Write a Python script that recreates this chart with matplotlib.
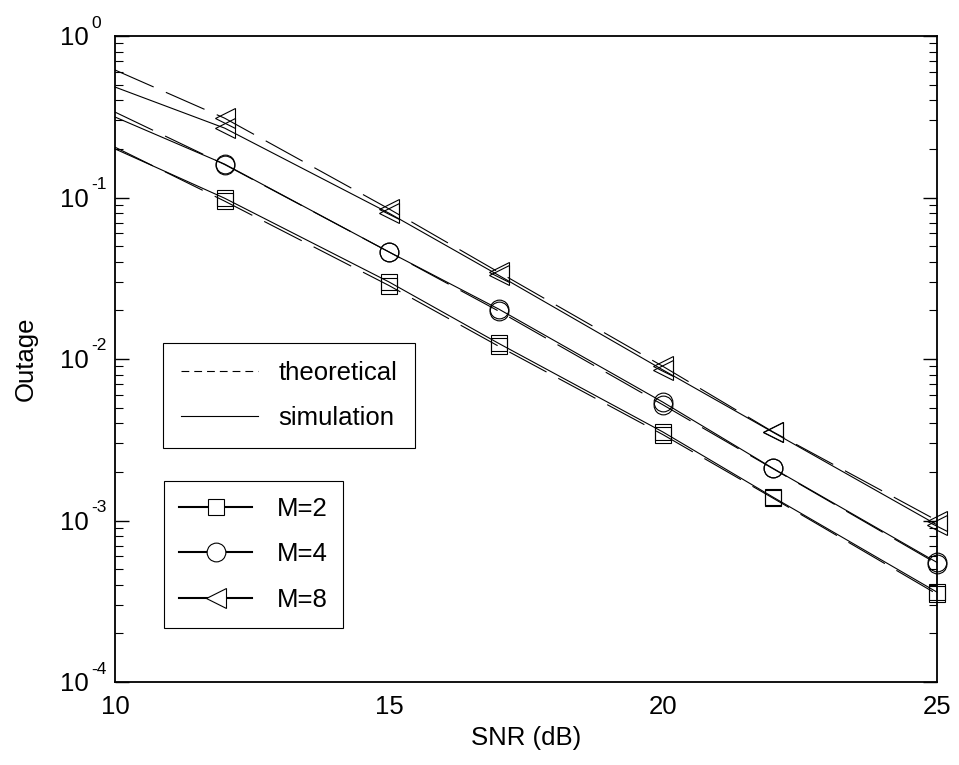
import matplotlib
matplotlib.use("Agg")
import matplotlib.pyplot as plt
from matplotlib.lines import Line2D
from matplotlib.ticker import FixedLocator, LogLocator, NullFormatter
from matplotlib.transforms import offset_copy

plt.rcParams['font.family'] = ['Liberation Sans', 'DejaVu Sans']

# SNR points (first point has no marker)
snr = [10, 12, 15, 17, 20, 22, 25]

# outage probability
theory_m2 = [0.205, 0.095, 0.0285, 0.0120, 0.0034, 0.00138, 0.00035]
sim_m2 = [0.200, 0.099, 0.030, 0.0125, 0.00353, 0.0014, 0.00036]
theory_m4 = [0.338, 0.160, 0.046, 0.0198, 0.0052, 0.0021, 0.00054]
sim_m4 = [0.315, 0.161, 0.046, 0.0204, 0.0054, 0.00211, 0.00055]
theory_m8 = [0.616, 0.31, 0.085, 0.0345, 0.0090, 0.00355, 0.00100]
sim_m8 = [0.483, 0.269, 0.080, 0.033, 0.00855, 0.00353, 0.00094]

labels_m = ['M=2', 'M=4', 'M=8']
markers = ['s', 'o', '<']
msizes = [11.5, 13.5, 14]

xticks = [10, 15, 20, 25]
yticks = [1e-4, 1e-3, 1e-2, 1e-1, 1e0]
yexps = ['-4', '-3', '-2', '-1', '0']

FS = 18.5

fig = plt.figure(figsize=(9.59, 7.65), dpi=100)
fig.subplots_adjust(left=115 / 959, right=937 / 959, top=1 - 36 / 765, bottom=1 - 682 / 765)
ax = fig.add_subplot(111)

theory = [theory_m2, theory_m4, theory_m8]
sim = [sim_m2, sim_m4, sim_m8]
for th, sm, mk, ms in zip(theory, sim, markers, msizes):
    ax.plot(snr, th, color='black', lw=0.8, dashes=(38, 12), marker=mk, ms=ms,
            mfc='none', mec='black', mew=0.8, markevery=list(range(1, len(snr))),
            clip_on=False)
    ax.plot(snr, sm, color='black', lw=0.8, linestyle='-', marker=mk, ms=ms,
            mfc='none', mec='black', mew=0.8, markevery=list(range(1, len(snr))),
            clip_on=False)

ax.set_yscale('log')
ax.set_xlim(10, 25)
ax.set_ylim(1e-4, 1e0)
ax.xaxis.set_major_locator(FixedLocator(xticks))
ax.set_xticklabels([str(x) for x in xticks])
ax.yaxis.set_major_locator(FixedLocator(yticks))
ax.set_yticklabels([''] * len(yticks))
ax.yaxis.set_minor_locator(LogLocator(base=10, subs=range(2, 10), numticks=20))
ax.yaxis.set_minor_formatter(NullFormatter())

ax.tick_params(axis='y', which='both', direction='in', left=True, right=True)
ax.tick_params(axis='y', which='major', length=10, width=1.0)
ax.tick_params(axis='y', which='minor', length=6, width=0.8)
ax.tick_params(axis='x', which='both', length=0, labelsize=FS, pad=9)
for sp in ax.spines.values():
    sp.set_linewidth(1.3)

# y tick labels drawn as base + raised exponent (hyphen minus, like the original)
ytrans = ax.get_yaxis_transform()
for y, e in zip(yticks, yexps):
    ax.text(0, y, '10', fontsize=FS, ha='right', va='baseline',
            transform=offset_copy(ytrans, fig, x=-26, y=-9.2, units='dots'))
    ax.text(0, y, e, fontsize=12.5, ha='left', va='baseline',
            transform=offset_copy(ytrans, fig, x=-24, y=8.5, units='dots'))

ax.set_xlabel('SNR (dB)', fontsize=FS, va='top')
ax.xaxis.set_label_coords(0.5, -0.068)
ax.set_ylabel('Outage', fontsize=FS)
ax.yaxis.set_label_coords(-0.094, 0.5)

# legend 1: line styles
style_handles = [Line2D([], [], color='black', lw=0.8, dashes=(7, 4.5)),
                 Line2D([], [], color='black', lw=0.8, linestyle='-')]
leg1 = ax.legend(style_handles, ['theoretical', 'simulation'], loc='upper left',
                 bbox_to_anchor=(0.058, 0.525), borderaxespad=0, fontsize=FS,
                 handlelength=3.0, handletextpad=0.8, labelspacing=0.83, borderpad=0.7,
                 frameon=True, fancybox=False, framealpha=1, edgecolor='black')
leg1.get_frame().set_linewidth(0.8)
ax.add_artist(leg1)

# legend 2: markers
marker_handles = [Line2D([], [], color='black', lw=1.5, marker=mk, ms=ms,
                         mfc='white', mec='black', mew=0.8)
                  for mk, ms in zip(markers, msizes)]
leg2 = ax.legend(marker_handles, labels_m, loc='upper left',
                 bbox_to_anchor=(0.0596, 0.311), borderaxespad=0, fontsize=FS,
                 handlelength=2.84, handletextpad=0.95, labelspacing=0.85, borderpad=0.6,
                 frameon=True, fancybox=False, framealpha=1, edgecolor='black')
leg2.get_frame().set_linewidth(0.8)

fig.savefig('out.png', dpi=100)
